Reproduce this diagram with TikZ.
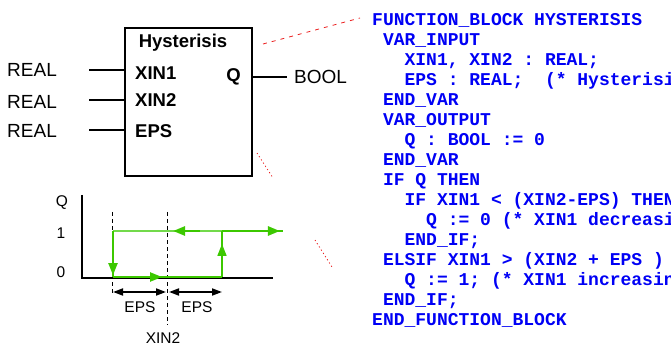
\documentclass[tikz,border=0pt]{standalone}
\usepackage{fontspec}
\setmainfont{Liberation Sans}
\setmonofont{Liberation Mono}
\usepackage{tikz}
\usetikzlibrary{positioning}
\usetikzlibrary{arrows.meta}
\usetikzlibrary{decorations.markings}
\definecolor{codeblue}{RGB}{0,0,245}
\definecolor{hgreen}{RGB}{60,200,0}
\definecolor{hlight}{RGB}{115,218,75}
\definecolor{linkred}{RGB}{235,30,30}

\begin{document}
\begin{tikzpicture}[x=1pt, y=-1pt,
    lbl/.style={inner sep=0pt, font=\fontsize{19}{20}\selectfont},
    pin/.style={inner sep=0pt, font=\fontsize{18.5}{20}\selectfont\bfseries},
    small/.style={inner sep=0pt, font=\fontsize{15.5}{16}\selectfont},
    code/.style={inner sep=0pt, anchor=base west, text=codeblue,
        font=\fontsize{18}{20}\selectfont\ttfamily\bfseries},
    wire/.style={line width=2.8pt},
    link/.style={linkred, line width=0.8pt, dash pattern=on 4pt off 5pt},
    dots/.style={linkred, line width=0.8pt, dash pattern=on 1.2pt off 2.6pt},
    guide/.style={line width=0.9pt, dash pattern=on 4pt off 3pt},
    dim/.style={line width=1.8pt, {Triangle[length=10pt,width=7pt]}-{Triangle[length=10pt,width=7pt]}},
    gtip/.style={-{Triangle[length=12pt,width=9pt]}},
    mid/.style={postaction={decorate}, decoration={markings,
        mark=at position #1 with {\arrow{Triangle[length=12pt,width=9pt]}}}}]
    \useasboundingbox (0,0) rectangle (671,347);
    \clip (0,0) rectangle (671,347);

    % function block
    \node[draw, line width=2pt, minimum width=127pt, minimum height=148pt,
        inner sep=0pt, anchor=north west] (blk) at (124,27) {};
    \node[pin] (name) at (183,43) {Hysterisis};
    \node[pin, anchor=west] (xin1) at (135,73) {XIN1};
    \node[pin, anchor=west] (xin2) at (135,100) {XIN2};
    \node[pin, anchor=west] (eps) at (135,131) {EPS};
    \node[pin, anchor=east] (q) at (241,77) {Q};

    \node[lbl, anchor=west] (t1) at (7,70) {REAL};
    \node[lbl, anchor=west] (t2) at (7,102) {REAL};
    \node[lbl, anchor=west] (t3) at (7,131) {REAL};
    \node[lbl, anchor=west] (tq) at (294,77) {BOOL};

    \coordinate (p1) at (89,70);
    \coordinate (p2) at (89,100);
    \coordinate (p3) at (89,130);
    \coordinate (pq) at (287,77);
    \draw[wire] (p1) -- (p1 -| blk.west);
    \draw[wire] (p2) -- (p2 -| blk.west);
    \draw[line width=2pt] (p3) -- (p3 -| blk.west);
    \draw[wire] (pq -| blk.east) -- (pq);

    % links to the code
    \coordinate (r1) at (263,44);
    \coordinate (r2) at (360,18);
    \coordinate (r3) at (257,153);
    \coordinate (r4) at (273,178);
    \coordinate (r5) at (315,240);
    \coordinate (r6) at (332,267);
    \draw[link] (r1) -- (r2);
    \draw[dots] (r3) -- (r4);
    \draw[dots] (r5) -- (r6);

    % hysteresis curve
    \coordinate (o) at (82,278);
    \coordinate (ytop) at (82,195);
    \coordinate (xend) at (273,278);
    \draw[line width=2.4pt] (ytop) -- (o) -- (xend);
    \node[small] (lq) at (62,203) {Q};
    \node[small] (l1) at (61,233) {1};
    \node[small] (l0) at (61,272) {0};

    \coordinate (g1a) at (112,212);
    \coordinate (g1b) at (112,295);
    \coordinate (g2a) at (167,212);
    \coordinate (g2b) at (167,325);
    \draw[guide] (g1a) -- (g1b);
    \draw[guide] (g2a) -- (g2b);

    \coordinate (hi1) at (113,231);
    \coordinate (lo1) at (113,277);
    \coordinate (hi2) at (222,231);
    \coordinate (lo2) at (222,277);
    \coordinate (hi3) at (283,231);
    \coordinate (ha) at (200,231);
    \coordinate (hb) at (173,231);
    \draw[hlight, line width=1.3pt] (hi2) -- (hi1);
    \draw[hgreen, line width=2.4pt, gtip] (ha) -- (hb);
    \draw[hgreen, line width=2pt, mid=0.96] (hi1) -- (lo1);
    \draw[hgreen, line width=2.2pt, mid=0.45] (lo1) -- (lo2);
    \draw[hgreen, line width=1.5pt, mid=0.72] (lo2) -- (hi2);
    \draw[hgreen, line width=2.6pt, mid=0.95] (hi2) -- (hi3);

    \coordinate (d1) at (113,292);
    \coordinate (d2) at (166,292);
    \coordinate (d3) at (169,292);
    \coordinate (d4) at (222,292);
    \draw[dim] (d1) -- (d2);
    \draw[dim] (d3) -- (d4);
    \node[small] (e1) at (140,307) {EPS};
    \node[small] (e2) at (197,307) {EPS};
    \node[small] (x2) at (163,338) {XIN2};

    % structured text
    \node[code] (c1) at (372,25.5) {FUNCTION\_BLOCK HYSTERISIS};
    \node[code] (c2) at (382.8,45.5) {VAR\_INPUT};
    \node[code] (c3) at (404.4,65.5) {XIN1, XIN2 : REAL;};
    \node[code] (c4) at (404.4,85.5) {EPS : REAL; \ (* Hysterisi};
    \node[code] (c5) at (382.8,105.5) {END\_VAR};
    \node[code] (c6) at (382.8,125.5) {VAR\_OUTPUT};
    \node[code] (c7) at (404.4,145.5) {Q : BOOL := 0};
    \node[code] (c8) at (382.8,165.5) {END\_VAR};
    \node[code] (c9) at (382.8,185.5) {IF Q THEN};
    \node[code] (c10) at (404.4,205.5) {IF XIN1 < (XIN2-EPS) THEN};
    \node[code] (c11) at (426,225.5) {Q := 0 (* XIN1 decreasi};
    \node[code] (c12) at (404.4,245.5) {END\_IF;};
    \node[code] (c13) at (382.8,265.5) {ELSIF XIN1 > (XIN2 + EPS )};
    \node[code] (c14) at (404.4,285.5) {Q := 1; (* XIN1 increasin};
    \node[code] (c15) at (382.8,305.5) {END\_IF;};
    \node[code] (c16) at (372,325.5) {END\_FUNCTION\_BLOCK};
\end{tikzpicture}
\end{document}
